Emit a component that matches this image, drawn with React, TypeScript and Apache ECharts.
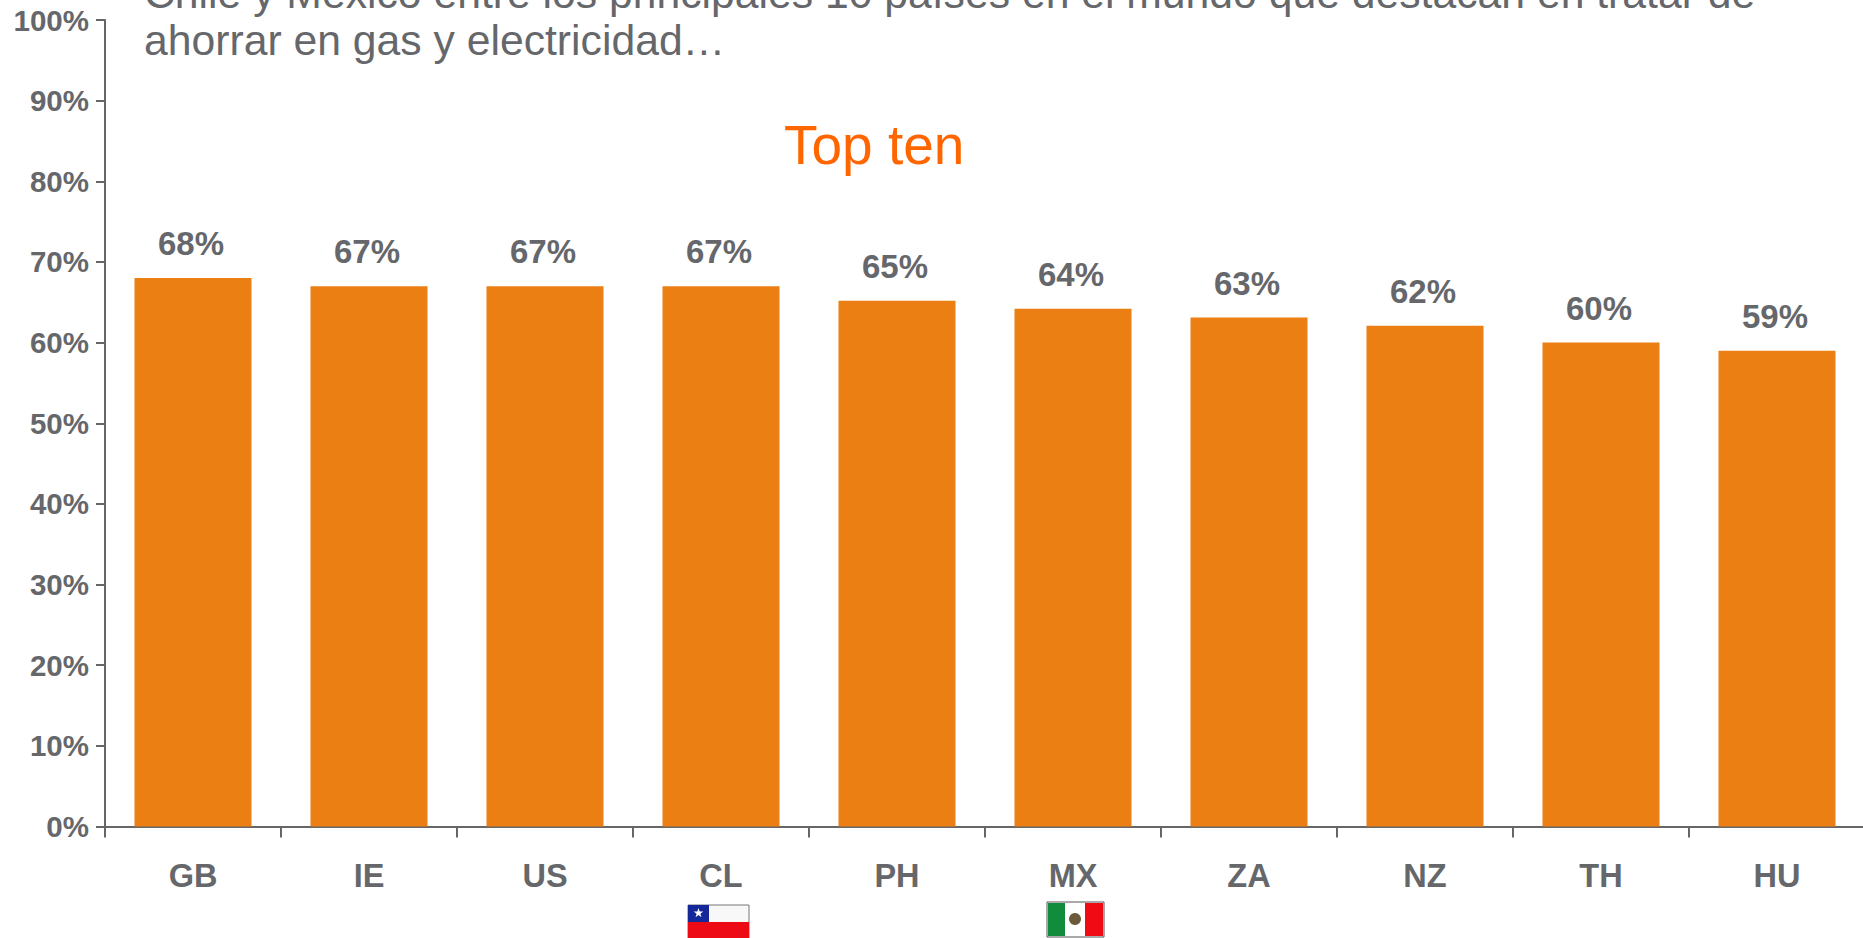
import React, { useEffect, useRef } from "react";
import * as echarts from "echarts";

const categories = ["GB", "IE", "US", "CL", "PH", "MX", "ZA", "NZ", "TH", "HU"];
const values = [68, 67, 67, 67, 65.2, 64.2, 63.1, 62.1, 60, 59];
const yMin = 0;
const yMax = 100;
const yStep = 10;
const headingLines = [
  "Chile y México entre los principales 10 países en el mundo que destacan en tratar de",
  "ahorrar en gas y electricidad…",
];
const subheading = "Top ten";

const FONT = '"Liberation Sans", Arial, sans-serif';
const GREY = "#65676B";
const AXIS = "#666666";
const BAR = "#EC7F13";

export default function App() {
  const ref = useRef<HTMLDivElement>(null);
  useEffect(() => {
    document.body.style.margin = "0";
    document.body.style.overflow = "hidden";
    const chart = echarts.init(ref.current!, null, { renderer: "svg" });
    chart.setOption({
      animation: false,
      backgroundColor: "#ffffff",
      grid: { left: 105, top: 20, width: 1760, height: 806.5, containLabel: false, outerBoundsMode: "none" },
      xAxis: {
        type: "category",
        data: categories,
        boundaryGap: true,
        axisLine: { lineStyle: { color: AXIS, width: 2 } },
        axisTick: { show: true, length: 11, alignWithLabel: false, lineStyle: { color: AXIS, width: 2 } },
        axisLabel: { color: GREY, fontFamily: FONT, fontWeight: "bold", fontSize: 32.5, margin: 33, interval: 0 },
      },
      yAxis: {
        type: "value",
        min: yMin,
        max: yMax,
        interval: yStep,
        splitLine: { show: false },
        axisLine: { show: true, lineStyle: { color: AXIS, width: 2 } },
        axisTick: { show: true, length: 9, lineStyle: { color: AXIS, width: 2 } },
        axisLabel: { color: GREY, fontFamily: FONT, fontWeight: "bold", fontSize: 29.5, margin: 16, formatter: "{value}%" },
      },
      series: [
        {
          type: "bar",
          data: values,
          barWidth: 117,
          itemStyle: { color: BAR },
          label: {
            show: true,
            position: "top",
            distance: 18,
            offset: [-2, 0],
            color: GREY,
            fontFamily: FONT,
            fontWeight: "bold",
            fontSize: 33,
            formatter: (p: { value: number }) => `${Math.round(p.value)}%`,
          },
        },
      ],
      graphic: [
        { type: "text", x: 144, y: -29, style: { text: headingLines[0], fill: GREY, font: `42.7px ${FONT}` } },
        { type: "text", x: 144, y: 18, style: { text: headingLines[1], fill: GREY, font: `42.7px ${FONT}` } },
        { type: "text", x: 784, y: 117, style: { text: subheading, fill: "#FF6600", font: `55px ${FONT}` } },
        // Chile flag
        { type: "rect", shape: { x: 688, y: 905, width: 61, height: 33 }, style: { fill: "#F8F8F8", stroke: "#777", lineWidth: 1 } },
        { type: "rect", shape: { x: 688, y: 922, width: 61, height: 16 }, style: { fill: "#EE0A14" } },
        { type: "rect", shape: { x: 688, y: 905, width: 21, height: 17 }, style: { fill: "#14289A" } },
        {
          type: "polygon",
          shape: {
            points: [
              [698.5, 908], [699.7, 911.4], [703.3, 911.5], [700.4, 913.7], [701.5, 917.2],
              [698.5, 915.1], [695.5, 917.2], [696.6, 913.7], [693.7, 911.5], [697.3, 911.4],
            ],
          },
          style: { fill: "#ffffff" },
        },
        // Mexico flag
        { type: "rect", shape: { x: 1047, y: 902, width: 57, height: 35 }, style: { fill: "#ffffff", stroke: "#555", lineWidth: 1 } },
        { type: "rect", shape: { x: 1048, y: 903, width: 17, height: 33 }, style: { fill: "#118C3C" } },
        { type: "rect", shape: { x: 1085, y: 903, width: 18, height: 33 }, style: { fill: "#F00A14" } },
        { type: "circle", shape: { cx: 1075, cy: 919, r: 6 }, style: { fill: "#6B5A3A" } },
      ],
    });
    return () => chart.dispose();
  }, []);
  return <div ref={ref} style={{ width: 1863, height: 938 }} />;
}
